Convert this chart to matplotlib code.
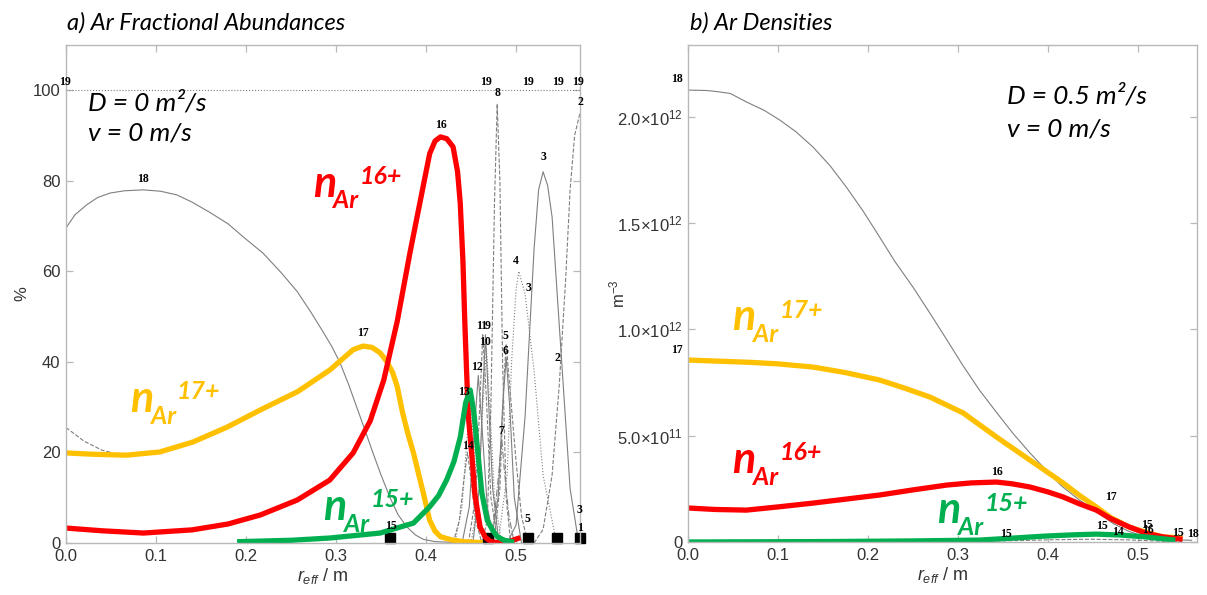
import matplotlib
matplotlib.use('Agg')
import matplotlib.pyplot as plt

plt.rcParams['font.family'] = ['Liberation Sans', 'DejaVu Sans']
plt.rcParams['mathtext.fontset'] = 'custom'
plt.rcParams['mathtext.rm'] = 'Liberation Sans'
plt.rcParams['mathtext.it'] = 'Liberation Sans:italic'

RED, ORANGE, GREEN, GRAY = '#FF0000', '#FFC000', '#00B050', '#7f7f7f'

# ---- a) fractional abundances (%) ----
r_red_a = [0.0, 0.04, 0.086, 0.14, 0.18, 0.216, 0.257, 0.293, 0.319, 0.338, 0.353, 0.368,
           0.382, 0.397, 0.404, 0.41, 0.416, 0.423, 0.43, 0.435, 0.438, 0.441, 0.443, 0.445,
           0.447, 0.451, 0.454, 0.46, 0.466, 0.472, 0.482, 0.492, 0.502]
y_red_a = [3.3, 2.7, 2.2, 2.9, 4.2, 6.2, 9.5, 13.9, 19.9, 27, 36, 49,
           64, 79, 86, 88.8, 89.7, 89.3, 87.5, 82, 75, 62, 49, 38,
           28, 19, 11, 3.5, 1.2, 0.3, 0.0, 0.3, 1.0]

r_org_a = [0.0, 0.03, 0.067, 0.104, 0.141, 0.179, 0.216, 0.257, 0.293, 0.319, 0.33, 0.34,
           0.349, 0.356, 0.363, 0.368, 0.374, 0.38, 0.386, 0.392, 0.397, 0.404, 0.41, 0.416,
           0.428, 0.441, 0.46]
y_org_a = [19.9, 19.6, 19.4, 20.1, 22.3, 25.6, 29.4, 33.4, 38.2, 42.7, 43.5, 43.2,
           42, 40.2, 37.6, 34.5, 28.7, 24, 19.9, 15, 11, 5, 2.6, 1.4,
           0.7, 0.3, 0.1]

r_grn_a = [0.193, 0.25, 0.293, 0.349, 0.386, 0.404, 0.414, 0.423, 0.431, 0.438, 0.444, 0.449,
           0.453, 0.457, 0.462, 0.468, 0.474, 0.479, 0.487, 0.495]
y_grn_a = [0.3, 0.6, 1.1, 2.2, 4.4, 8, 10.5, 14, 18, 23.4, 31, 33.8,
           29, 21, 11, 5, 2.8, 1.4, 0.6, 0.3]

r_18_a = [0.0, 0.01, 0.023, 0.035, 0.049, 0.065, 0.086, 0.105, 0.123, 0.14, 0.16, 0.18,
          0.197, 0.219, 0.24, 0.257, 0.272, 0.286, 0.295, 0.304, 0.314, 0.323, 0.332, 0.341,
          0.35, 0.36, 0.369, 0.379, 0.388, 0.397, 0.41, 0.45]
y_18_a = [69.6, 72.5, 74.7, 76.3, 77.3, 77.8, 78, 77.7, 76.9, 75.3, 73, 70.5,
          67.6, 64, 59.5, 55.5, 51, 46.5, 43.5, 40, 35, 30, 25, 19.9,
          15, 10, 6.2, 3.5, 1.8, 0.8, 0.3, 0]

r_17d_a = [0.0, 0.02, 0.04, 0.05]
y_17d_a = [25.5, 22.5, 20.5, 20.0]

r_19_a = [0.0, 0.571]
y_19_a = [100, 100]

# narrow edge ions: (r, y, linestyle)
edge_ions = [
    ([0.43, 0.437, 0.442, 0.446, 0.45, 0.455, 0.462], [0, 5, 14, 20, 14, 5, 0], '--'),
    ([0.432, 0.44, 0.445, 0.449, 0.453, 0.458, 0.466], [0, 8, 22, 32, 22, 8, 0], ':'),
    ([0.44, 0.448, 0.454, 0.458, 0.462, 0.468, 0.476], [0, 8, 26, 37, 26, 8, 0], '-'),
    ([0.447, 0.455, 0.46, 0.463, 0.467, 0.472, 0.48], [0, 10, 32, 46, 32, 10, 0], '--'),
    ([0.45, 0.458, 0.463, 0.467, 0.471, 0.476, 0.484], [0, 10, 30, 43, 30, 10, 0], ':'),
    ([0.452, 0.459, 0.463, 0.466, 0.469, 0.474, 0.481], [0, 12, 33, 46, 33, 12, 0], '-'),
    ([0.462, 0.468, 0.472, 0.476, 0.479, 0.482, 0.485, 0.489, 0.494], [0, 5, 30, 75, 97, 80, 40, 10, 0], '--'),
    ([0.47, 0.476, 0.481, 0.484, 0.487, 0.492, 0.498], [0, 6, 16, 23, 16, 6, 0], '-.'),
    ([0.472, 0.48, 0.485, 0.489, 0.493, 0.498, 0.506], [0, 10, 30, 41, 30, 10, 0], '-'),
    ([0.475, 0.482, 0.486, 0.489, 0.494, 0.5, 0.506, 0.513], [0, 12, 34, 44, 32, 18, 6, 0], '--'),
    ([0.48, 0.49, 0.495, 0.5, 0.503, 0.51, 0.52, 0.53, 0.545], [0, 15, 40, 56, 60, 55, 38, 15, 0], ':'),
    ([0.49, 0.5, 0.51, 0.52, 0.525, 0.53, 0.535, 0.54, 0.55, 0.56, 0.568],
     [0, 4, 28, 65, 78, 82, 79, 72, 42, 12, 2], '-'),
    ([0.52, 0.53, 0.54, 0.548, 0.555, 0.56, 0.565, 0.571], [0, 3, 15, 35, 58, 78, 90, 95], '--'),
]

labels_a = [('19', -0.001, 100.5), ('18', 0.085, 79), ('17', 0.33, 45), ('16', 0.416, 91),
            ('15', 0.361, 2.5), ('14', 0.446, 20), ('13', 0.442, 32), ('12', 0.457, 37.5),
            ('10', 0.466, 43), ('11', 0.462, 46.5), ('9', 0.468, 46.5), ('8', 0.479, 98),
            ('7', 0.484, 23.5), ('6', 0.488, 41), ('5', 0.488, 44.5), ('4', 0.5, 61),
            ('3', 0.514, 55), ('3', 0.53, 84), ('2', 0.571, 96), ('2', 0.546, 39.5),
            ('19', 0.466, 100.5), ('19', 0.513, 100.5), ('19', 0.547, 100.5), ('19', 0.569, 100.5),
            ('5', 0.513, 4), ('3', 0.57, 6), ('1', 0.571, 2)]
r_sq_a = [0.36, 0.469, 0.513, 0.546, 0.571]

# ---- b) densities (m^-3) ----
r_18_b = [0.0, 0.02, 0.03, 0.047, 0.065, 0.085, 0.102, 0.12, 0.139, 0.158, 0.176, 0.195,
          0.213, 0.23, 0.25, 0.27, 0.288, 0.305, 0.324, 0.343, 0.361, 0.38, 0.398, 0.415,
          0.435, 0.455, 0.472, 0.49, 0.509, 0.547, 0.56]
y_18_b = [2.126e12, 2.124e12, 2.12e12, 2.11e12, 2.07e12, 2.03e12, 1.985e12, 1.93e12,
          1.858e12, 1.77e12, 1.67e12, 1.555e12, 1.435e12, 1.32e12, 1.2e12, 1.07e12,
          0.95e12, 0.835e12, 0.715e12, 0.61e12, 0.513e12, 0.42e12, 0.339e12, 0.265e12,
          0.198e12, 0.14e12, 0.089e12, 0.05e12, 0.024e12, 0.01e12, 0.008e12]

r_org_b = [0.0, 0.07, 0.1, 0.139, 0.175, 0.213, 0.24, 0.269, 0.306, 0.343, 0.38, 0.417,
           0.435, 0.454, 0.47, 0.491, 0.51, 0.528, 0.547]
y_org_b = [0.856e12, 0.845e12, 0.838e12, 0.823e12, 0.797e12, 0.762e12, 0.725e12, 0.682e12,
           0.607e12, 0.494e12, 0.386e12, 0.278e12, 0.22e12, 0.165e12, 0.115e12, 0.07e12,
           0.045e12, 0.024e12, 0.02e12]

r_red_b = [0.0, 0.03, 0.065, 0.1, 0.139, 0.213, 0.25, 0.288, 0.315, 0.343, 0.36, 0.38,
           0.4, 0.417, 0.435, 0.454, 0.47, 0.491, 0.51, 0.528, 0.547]
y_red_b = [0.16e12, 0.153e12, 0.15e12, 0.165e12, 0.183e12, 0.221e12, 0.245e12, 0.268e12,
           0.278e12, 0.282e12, 0.274e12, 0.259e12, 0.236e12, 0.212e12, 0.18e12, 0.15e12,
           0.11e12, 0.07e12, 0.04e12, 0.024e12, 0.014e12]

r_grn_b = [0.0, 0.15, 0.25, 0.324, 0.36, 0.398, 0.43, 0.454, 0.48, 0.509, 0.539]
y_grn_b = [0.0, 0.002e12, 0.005e12, 0.009e12, 0.018e12, 0.028e12, 0.034e12, 0.037e12,
           0.033e12, 0.024e12, 0.01e12]

r_14_b = [0.33, 0.37, 0.41, 0.45, 0.49, 0.53, 0.55]
y_14_b = [0.004e12, 0.007e12, 0.011e12, 0.013e12, 0.01e12, 0.003e12, 0.001e12]

labels_b = [('18', -0.012, 2.15e12), ('17', -0.012, 0.875e12), ('16', 0.343, 0.3e12),
            ('17', 0.47, 0.185e12), ('15', 0.46, 0.045e12), ('14', 0.478, 0.02e12),
            ('15', 0.354, 0.01e12), ('15', 0.51, 0.05e12), ('16', 0.512, 0.03e12),
            ('15', 0.545, 0.012e12), ('18', 0.562, 0.008e12)]

yt_b = [0, 0.5e12, 1.0e12, 1.5e12, 2.0e12]
yt_b_lab = ['0', r'5.0×10$^{11}$', r'1.0×10$^{12}$', r'1.5×10$^{12}$', r'2.0×10$^{12}$']

W, H = 1207, 595
fig = plt.figure(figsize=(W / 100, H / 100), dpi=100)
ax1 = fig.add_axes([66 / W, 1 - 543 / H, 514 / W, 498 / H])
ax2 = fig.add_axes([688 / W, 1 - 542 / H, 509 / W, 497 / H])


def style(ax):
    for s in ax.spines.values():
        s.set_color('#b8b8b8')
        s.set_linewidth(1.0)
    ax.tick_params(direction='in', length=5, width=0.9, color='#b8b8b8', labelcolor='#333333',
                   labelsize=12, top=True, right=True, pad=4)
    ax.set_xticks([0.0, 0.1, 0.2, 0.3, 0.4, 0.5])
    ax.set_xticklabels(['0.0', '0.1', '0.2', '0.3', '0.4', '0.5'])
    ax.set_xlabel(r'$r_{eff}$ / m', fontsize=13, color='#333333', labelpad=2)


def ion_label(ax, x, y, charge, color):
    kw = dict(textcoords='offset points', color=color, family='Lato', style='italic',
              weight='bold', ha='left', va='baseline')
    ax.annotate('n', (x, y), xytext=(0, 0), fontsize=31, **kw)
    ax.annotate('Ar', (x, y), xytext=(15, -8.5), fontsize=18, **kw)
    ax.annotate(charge, (x, y), xytext=(34, 9), fontsize=18, **kw)


lab_font = dict(family='Liberation Serif', weight='bold', fontsize=8.5, ha='center',
                va='bottom', clip_on=False)

# panel a
ax1.plot(r_19_a, y_19_a, ':', color=GRAY, lw=0.8)
for r, y, ls in edge_ions:
    ax1.plot(r, y, ls, color=GRAY, lw=0.8)
ax1.plot(r_17d_a, y_17d_a, '--', color=GRAY, lw=0.8)
ax1.plot(r_18_a, y_18_a, '-', color=GRAY, lw=0.8)
ax1.plot(r_sq_a, [1.2] * len(r_sq_a), 's', color='black', ms=7, clip_on=False)
ax1.plot(r_org_a, y_org_a, color=ORANGE, lw=3.8, solid_joinstyle='round')
ax1.plot(r_red_a, y_red_a, color=RED, lw=3.8, solid_joinstyle='round')
ax1.plot(r_grn_a, y_grn_a, color=GREEN, lw=3.8, solid_joinstyle='round')
for t, x, y in labels_a:
    ax1.text(x, y, t, **lab_font)
style(ax1)
ax1.set_xlim(0, 0.571)
ax1.set_ylim(0, 110)
ax1.set_yticks([0, 20, 40, 60, 80, 100])
ax1.set_ylabel('%', fontsize=12, color='#333333')
ax1.yaxis.set_label_coords(-0.072, 0.5)

# panel b
ax2.plot(r_14_b, y_14_b, '--', color=GRAY, lw=0.8)
ax2.plot(r_18_b, y_18_b, '-', color=GRAY, lw=0.8)
ax2.plot(r_org_b, y_org_b, color=ORANGE, lw=3.8, solid_joinstyle='round')
ax2.plot(r_red_b, y_red_b, color=RED, lw=3.8, solid_joinstyle='round')
ax2.plot(r_grn_b, y_grn_b, color=GREEN, lw=3.8, solid_joinstyle='round')
for t, x, y in labels_b:
    ax2.text(x, y, t, **lab_font)
style(ax2)
ax2.set_xlim(0, 0.566)
ax2.set_ylim(0, 2.338e12)
ax2.set_yticks(yt_b)
ax2.set_yticklabels(yt_b_lab)
ax2.set_ylabel(r'm$^{-3}$', fontsize=12, color='#333333')
ax2.yaxis.set_label_coords(-0.12, 0.5)

# big ion labels
ion_label(ax1, 0.274, 76.5, '16+', RED)
ion_label(ax1, 0.071, 29, '17+', ORANGE)
ion_label(ax1, 0.286, 5.1, '15+', GREEN)
ion_label(ax2, 0.049, 0.997e12, '17+', ORANGE)
ion_label(ax2, 0.049, 0.325e12, '16+', RED)
ion_label(ax2, 0.277, 0.089e12, '15+', GREEN)

# titles and parameter boxes
it = dict(family='Lato', style='italic', color='black', va='baseline', ha='left')
fig.text(67 / W, 1 - 30 / H, 'a) Ar Fractional Abundances', fontsize=17, **it)
fig.text(690 / W, 1 - 30 / H, 'b) Ar Densities', fontsize=17, **it)
fig.text(88 / W, 1 - 111 / H, 'D = 0 m²/s', fontsize=19, **it)
fig.text(88 / W, 1 - 141 / H, 'v = 0 m/s', fontsize=19, **it)
fig.text(1007 / W, 1 - 103 / H, 'D = 0.5 m²/s', fontsize=19, **it)
fig.text(1007 / W, 1 - 137 / H, 'v = 0 m/s', fontsize=19, **it)

fig.savefig('out.png', dpi=100)
